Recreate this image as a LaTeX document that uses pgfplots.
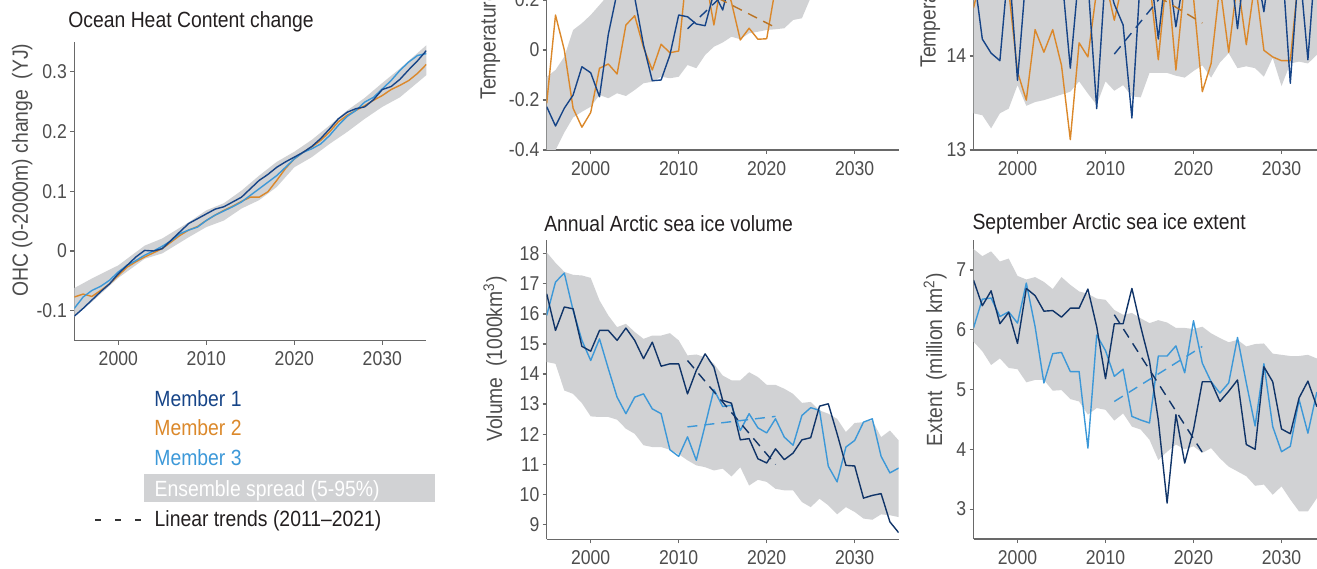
\documentclass[border={-50pt -50pt -91.5pt -166pt}]{standalone}
\usepackage{fontspec}
\setmainfont{Liberation Sans}[FakeStretch=0.88]
\usepackage{pgfplots}
\pgfplotsset{compat=1.18}
\usepackage{pgfplotstable}

\definecolor{c1}{RGB}{22,68,135}
\definecolor{c1dk}{RGB}{16,52,104}
\definecolor{c2}{RGB}{219,136,42}
\definecolor{c3}{RGB}{60,152,216}
\definecolor{band}{RGB}{209,210,212}
\definecolor{tickgray}{RGB}{77,77,77}
\definecolor{axisgray}{RGB}{105,105,105}
\definecolor{titleblack}{RGB}{35,31,32}

\pgfplotsset{
  panel/.style={
    scale only axis, width=176pt, height=149.5pt, anchor=south west,
    xmin=1995, xmax=2035,
    axis lines*=left,
    axis line style={draw=axisgray, line width=0.6pt},
    tick style={draw=axisgray, line width=0.6pt},
    major tick length=2pt, tick align=outside,
    xtick={2000,2010,2020,2030}, xticklabels={2000,2010,2020,2030},
    tick label style={font=\fontsize{10}{12}\selectfont, text=tickgray},
    yticklabel style={inner sep=1.5pt},
    label style={font=\fontsize{11}{13}\selectfont, text=tickgray, inner sep=0pt},
    every axis title shift=0pt,
    title style={font=\fontsize{11}{13}\selectfont, text=titleblack, anchor=base west, inner sep=0pt},
  },
  m1/.style={draw=c1, line width=0.7pt, line join=round},
  m2/.style={draw=c2, line width=0.7pt, line join=round},
  m3/.style={draw=c3, line width=0.7pt, line join=round},
  trend/.style={line width=0.7pt, dash pattern=on 5pt off 3.5pt},
  spread/.style={fill=band, draw=none},
}

% ocean heat content, YJ
\pgfplotstableread{
yr m1 m2 m3
1995 -0.109 -0.077 -0.096
1996 -0.096 -0.072 -0.077
1997 -0.082 -0.076 -0.066
1998 -0.068 -0.066 -0.059
1999 -0.055 -0.055 -0.049
2000 -0.038 -0.041 -0.035
2001 -0.024 -0.027 -0.024
2002 -0.010 -0.018 -0.016
2003 0.001 -0.010 -0.007
2004 0.000 -0.003 0.000
2005 0.004 0.004 0.008
2006 0.018 0.015 0.017
2007 0.032 0.026 0.029
2008 0.046 0.035 0.035
2009 0.054 0.041 0.040
2010 0.062 0.051 0.051
2011 0.070 0.060 0.060
2012 0.074 0.068 0.067
2013 0.082 0.075 0.074
2014 0.090 0.083 0.082
2015 0.104 0.090 0.093
2016 0.118 0.090 0.104
2017 0.128 0.099 0.115
2018 0.140 0.118 0.126
2019 0.149 0.138 0.140
2020 0.157 0.154 0.154
2021 0.165 0.165 0.165
2022 0.175 0.174 0.171
2023 0.188 0.185 0.179
2024 0.204 0.199 0.193
2025 0.221 0.216 0.210
2026 0.232 0.227 0.225
2027 0.238 0.235 0.235
2028 0.241 0.243 0.249
2029 0.253 0.252 0.257
2030 0.270 0.260 0.271
2031 0.275 0.270 0.285
2032 0.287 0.277 0.302
2033 0.303 0.285 0.316
2034 0.318 0.297 0.327
2035 0.335 0.312 0.330
}\ohc
% spread outline: 95% forward, then 5% backward
\pgfplotstableread{
yr v
1995 -0.062
1997 -0.046
2000 -0.024
2003 0.009
2005 0.021
2008 0.048
2010 0.068
2012 0.080
2014 0.101
2016 0.126
2018 0.149
2020 0.166
2022 0.186
2024 0.210
2026 0.235
2028 0.256
2030 0.281
2032 0.305
2035 0.344
2035 0.294
2032 0.257
2030 0.241
2028 0.221
2026 0.199
2024 0.179
2022 0.157
2020 0.140
2018 0.107
2016 0.085
2014 0.071
2012 0.051
2010 0.040
2008 0.023
2005 -0.004
2003 -0.013
2000 -0.045
1997 -0.085
1995 -0.110
}\ohcband

% temperature anomaly
\pgfplotstableread{
yr m1 m2
1995 -0.227 -0.213
1996 -0.304 0.140
1997 -0.233 0.000
1998 -0.180 -0.233
1999 -0.067 -0.309
2000 -0.091 -0.250
2001 -0.187 -0.073
2002 0.062 -0.056
2003 0.23 -0.096
2004 0.30 0.100
2005 0.21 0.137
2006 0.02 0.010
2007 -0.123 -0.080
2008 -0.120 0.023
2009 -0.020 -0.011
2010 0.140 -0.004
2011 0.133 0.35
2012 0.104 0.40
2013 0.097 0.30
2014 0.23 0.100
2015 0.160 0.30
2016 0.30 0.19
2017 0.34 0.040
2018 0.30 0.087
2019 0.38 0.043
2020 0.33 0.045
2021 0.40 0.25
2022 0.45 0.32
2023 0.38 0.40
2024 0.50 0.36
2025 0.44 0.45
2026 0.52 0.40
2027 0.48 0.50
2028 0.56 0.46
2029 0.50 0.55
2030 0.60 0.50
2031 0.55 0.58
2032 0.62 0.54
2033 0.58 0.63
2034 0.66 0.60
2035 0.63 0.66
}\tanom
\pgfplotstableread{
yr v
1995 -0.107
1996 -0.080
1997 -0.027
1998 0.080
1999 0.107
2000 0.140
2001 0.180
2002 0.220
2003 0.260
2005 0.320
2010 0.420
2020 0.620
2035 0.790
2035 0.400
2030 0.320
2025 0.210
2024 0.127
2023 0.120
2022 0.087
2021 0.083
2020 0.080
2019 0.073
2018 0.067
2017 0.043
2016 0.053
2015 0.030
2014 0.013
2013 -0.020
2012 -0.073
2011 -0.060
2010 -0.107
2009 -0.113
2008 -0.107
2007 -0.127
2006 -0.133
2005 -0.160
2004 -0.184
2003 -0.173
2002 -0.193
2001 -0.180
2000 -0.227
1999 -0.247
1998 -0.270
1997 -0.330
1996 -0.400
1995 -0.400
}\tanomband

% absolute temperature
\pgfplotstableread{
yr m1 m2
1995 14.90 14.51
1996 14.18 14.90
1997 14.03 15.00
1998 13.95 14.85
1999 15.00 14.70
2000 13.74 13.83
2001 14.90 13.53
2002 15.00 14.28
2003 14.80 14.04
2004 15.10 14.28
2005 14.90 13.90
2006 13.87 13.11
2007 14.90 14.14
2008 14.80 13.99
2009 13.44 14.70
2010 14.90 14.80
2011 14.55 14.38
2012 14.33 14.80
2013 13.34 15.00
2014 14.90 14.90
2015 15.00 14.80
2016 14.18 13.96
2017 15.00 14.90
2018 14.31 13.85
2019 14.90 14.80
2020 15.10 14.62
2021 15.00 13.62
2022 15.20 13.92
2023 15.00 14.75
2024 15.10 14.04
2025 14.29 14.80
2026 15.10 14.12
2027 15.00 14.80
2028 14.47 14.06
2029 15.20 13.99
2030 15.10 13.95
2031 13.71 13.95
2032 15.00 14.90
2033 13.96 15.00
2034 15.20 14.90
2035 15.10 15.00
}\tabs
\pgfplotstableread{
yr v
1995 15.9
2035 15.9
2035 14.05
2034 14.01
2033 13.92
2032 13.94
2031 13.92
2030 13.68
2029 13.98
2028 13.78
2027 13.87
2026 13.89
2025 13.87
2024 14.03
2023 13.93
2022 13.77
2021 13.90
2020 13.84
2019 13.77
2018 13.79
2017 13.82
2016 13.82
2015 13.82
2014 13.56
2013 13.57
2012 13.69
2011 13.63
2010 13.73
2009 13.48
2008 13.60
2007 13.73
2006 13.62
2005 13.59
2004 13.56
2003 13.53
2002 13.51
2001 13.47
2000 13.69
1999 13.44
1998 13.39
1997 13.23
1996 13.37
1995 13.39
}\tabsband

% annual Arctic sea ice volume, 1000 km3
\pgfplotstableread{
yr m1 m3
1995 16.67 15.95
1996 15.45 17.06
1997 16.23 17.36
1998 16.17 16.12
1999 14.92 15.12
2000 14.76 14.45
2001 15.45 15.17
2002 15.45 14.18
2003 15.12 13.23
2004 15.53 12.68
2005 15.12 13.23
2006 14.51 13.34
2007 15.06 12.84
2008 14.26 12.68
2009 14.34 11.48
2010 14.34 11.26
2011 13.34 11.91
2012 14.12 11.13
2013 14.67 12.29
2014 14.23 13.48
2015 13.12 12.92
2016 13.03 12.96
2017 11.81 12.12
2018 11.85 12.68
2019 11.18 12.21
2020 11.04 12.04
2021 11.51 12.51
2022 11.15 11.90
2023 11.37 11.63
2024 11.81 12.62
2025 11.88 12.88
2026 12.93 12.79
2027 13.01 10.93
2028 12.01 10.41
2029 10.96 11.57
2030 10.94 11.79
2031 9.87 12.40
2032 9.96 12.51
2033 10.02 11.26
2034 9.08 10.71
2035 8.72 10.87
}\vol
\pgfplotstableread{
yr v
1995 18.05
1996 17.70
1997 17.40
1998 17.30
1999 17.28
2000 17.20
2001 16.45
2002 15.95
2003 15.56
2004 15.67
2005 15.40
2006 15.17
2007 15.28
2008 15.28
2009 15.36
2010 15.12
2011 14.62
2012 14.65
2013 14.56
2014 14.34
2015 13.95
2016 13.79
2017 13.79
2018 14.06
2019 13.90
2020 13.64
2021 13.64
2022 13.51
2023 13.34
2024 13.04
2025 13.07
2026 12.79
2027 12.68
2028 12.51
2029 12.07
2030 12.37
2031 12.40
2032 12.46
2033 11.90
2034 12.12
2035 11.79
2035 9.24
2034 9.30
2033 9.33
2032 9.15
2031 9.19
2030 9.41
2029 9.57
2028 9.33
2027 9.63
2026 9.85
2025 9.57
2024 9.74
2023 10.13
2022 10.13
2021 10.18
2020 10.41
2019 10.48
2018 10.29
2017 10.90
2016 10.59
2015 10.85
2014 10.79
2013 10.90
2012 10.96
2011 11.13
2010 11.33
2009 11.48
2008 11.57
2007 11.57
2006 11.63
2005 12.01
2004 12.18
2003 12.48
2002 12.57
2001 12.57
2000 12.59
1999 13.03
1998 13.34
1997 13.45
1996 14.34
1995 14.40
}\volband

% September Arctic sea ice extent, million km2
\pgfplotstableread{
yr m1 m3
1995 6.83 6.03
1996 6.40 6.51
1997 6.65 6.53
1998 6.10 6.22
1999 6.29 6.30
2000 5.77 6.11
2001 6.69 6.78
2002 6.57 6.05
2003 6.31 5.11
2004 6.32 5.60
2005 6.21 5.62
2006 6.36 5.30
2007 6.36 5.30
2008 6.68 4.02
2009 6.05 5.91
2010 5.18 5.65
2011 6.10 5.22
2012 6.10 5.34
2013 6.69 4.55
2014 6.05 4.49
2015 5.47 4.44
2016 4.49 5.56
2017 3.10 5.56
2018 4.58 5.73
2019 3.77 5.28
2020 4.33 6.15
2021 5.13 5.44
2022 5.13 5.13
2023 4.80 4.94
2024 4.97 5.11
2025 5.16 5.87
2026 4.08 5.11
2027 4.00 4.39
2028 5.38 5.43
2029 5.13 4.38
2030 4.34 3.96
2031 4.26 4.05
2032 4.86 4.83
2033 5.14 4.27
2034 4.72 4.95
2035 5.00 4.70
}\ext
\pgfplotstableread{
yr v
1995 7.35
1996 7.23
1997 7.31
1998 7.14
1999 7.19
2000 6.90
2001 6.84
2002 6.88
2003 6.80
2004 6.68
2005 6.88
2006 6.75
2007 6.64
2008 6.60
2009 6.52
2010 6.50
2011 6.33
2012 6.25
2013 6.28
2014 6.19
2015 6.11
2016 6.16
2017 6.12
2018 6.03
2019 6.03
2020 6.01
2021 6.05
2022 5.94
2023 5.86
2024 5.79
2025 5.83
2026 5.72
2027 5.76
2028 5.77
2029 5.60
2030 5.58
2031 5.56
2032 5.56
2033 5.58
2034 5.52
2035 5.45
2035 3.25
2034 3.18
2033 2.96
2032 2.96
2031 3.16
2030 3.38
2029 3.24
2028 3.41
2027 3.39
2026 3.55
2025 3.63
2024 3.71
2023 3.85
2022 4.02
2021 3.94
2020 4.05
2019 4.00
2018 4.08
2017 3.96
2016 3.82
2015 4.16
2014 4.33
2013 4.38
2012 4.60
2011 4.48
2010 4.66
2009 4.69
2008 4.58
2007 4.80
2006 4.84
2005 4.99
2004 4.98
2003 5.16
2002 5.16
2001 5.12
2000 5.34
1999 5.36
1998 5.52
1997 5.41
1996 5.64
1995 5.80
}\extband

\begin{document}
\begin{tikzpicture}
% frame that holds everything; the class border trims it to the visible window
\path (-50pt,-50pt) rectangle (750pt,450pt);

% Ocean heat content
\begin{axis}[panel, at={(37.15pt,113.65pt)},
  ymin=-0.15, ymax=0.35,
  ytick={-0.1,0,0.1,0.2,0.3}, yticklabels={-0.1,0,0.1,0.2,0.3},
  title={Ocean Heat Content change},
  title style={at={(axis description cs:-0.018,1.047)}},
  ylabel={OHC (0-2000m) change\ \ (YJ)},
  ylabel style={at={(axis description cs:-0.148,0.571)}, anchor=center}]
\addplot[spread] table[x=yr, y=v] {\ohcband};
\addplot[m2] table[x=yr, y=m2] {\ohc};
\addplot[m3] table[x=yr, y=m3] {\ohc};
\addplot[m1] table[x=yr, y=m1] {\ohc};
\end{axis}

% Temperature anomaly (top cut off)
\begin{axis}[panel, at={(273.35pt,209pt)},
  ymin=-0.4, ymax=0.796,
  ytick={-0.4,-0.2,0,0.2,0.4,0.6}, yticklabels={-0.4,-0.2,0,0.2,0.4,0.6},
  ylabel={Temperature anomaly (°C)},
  ylabel style={at={(axis description cs:-0.161,0.167)}, anchor=west}]
\addplot[spread] table[x=yr, y=v] {\tanomband};
\addplot[m2] table[x=yr, y=m2] {\tanom};
\addplot[m1] table[x=yr, y=m1] {\tanom};
\addplot[trend, draw=c1] coordinates {(2011,0.085) (2021,0.42)};
\addplot[trend, draw=c2!85!black] coordinates {(2011,0.27) (2021,0.09)};
\end{axis}

% Absolute temperature (top and right cut off)
\begin{axis}[panel, at={(486.75pt,209pt)},
  ymin=13, ymax=16.18,
  ytick={13,14,15,16}, yticklabels={13,14,15,16},
  ylabel={Temperature (°C)},
  ylabel style={at={(axis description cs:-0.124,0.274)}, anchor=west}]
\addplot[spread] table[x=yr, y=v] {\tabsband};
\addplot[m2] table[x=yr, y=m2] {\tabs};
\addplot[m1] table[x=yr, y=m1] {\tabs};
\addplot[trend, draw=c1] coordinates {(2011,14.02) (2021,15.17)};
\addplot[trend, draw=c2!85!black] coordinates {(2011,14.91) (2021,14.35)};
\end{axis}

% Sea ice volume
\begin{axis}[panel, at={(273.35pt,14.35pt)},
  ymin=8.5, ymax=18.45,
  ytick={9,...,18}, yticklabels={9,10,11,12,13,14,15,16,17,18},
  title={Annual Arctic sea ice volume},
  title style={at={(axis description cs:-0.008,1.031)}},
  ylabel={Volume\ \ (1000km\textsuperscript{3})},
  ylabel style={at={(axis description cs:-0.147,0.603)}, anchor=center}]
\addplot[spread] table[x=yr, y=v] {\volband};
\addplot[m3] table[x=yr, y=m3] {\vol};
\addplot[m1, draw=c1dk] table[x=yr, y=m1] {\vol};
\addplot[trend, draw=c1dk] coordinates {(2011,14.45) (2021,10.99)};
\addplot[trend, draw=c3] coordinates {(2011,12.24) (2021,12.59)};
\end{axis}

% Sea ice extent
\begin{axis}[panel, at={(486.75pt,14.5pt)},
  ymin=2.5, ymax=7.5,
  ytick={3,...,7}, yticklabels={3,4,5,6,7},
  title={September Arctic sea ice extent},
  title style={at={(axis description cs:-0.004,1.034)}},
  ylabel={Extent\ \ (million km\textsuperscript{2})},
  ylabel style={at={(axis description cs:-0.109,0.6)}, anchor=center}]
\addplot[spread] table[x=yr, y=v] {\extband};
\addplot[m3] table[x=yr, y=m3] {\ext};
\addplot[m1, draw=c1dk] table[x=yr, y=m1] {\ext};
\addplot[trend, draw=c1dk] coordinates {(2011,6.25) (2021,3.95)};
\addplot[trend, draw=c3] coordinates {(2011,4.80) (2021,5.72)};
\end{axis}

% legend
\begin{scope}[every node/.style={anchor=base west, inner sep=0pt, font=\fontsize{11}{13}\selectfont}]
\node[text=c1] at (77pt,81pt) {Member 1};
\node[text=c2] at (77pt,66.15pt) {Member 2};
\node[text=c3] at (77pt,51.15pt) {Member 3};
\fill[band] (72pt,33.15pt) rectangle (217.5pt,47pt);
\node[text=white] at (77.15pt,36pt) {Ensemble spread (5-95\%)};
\draw[black!80, line width=0.6pt, dash pattern=on 3pt off 7pt] (47.5pt,24pt) -- (71pt,24pt);
\node[text=titleblack] at (77.15pt,20.65pt) {Linear trends (2011–2021)};
\end{scope}
\end{tikzpicture}
\end{document}
